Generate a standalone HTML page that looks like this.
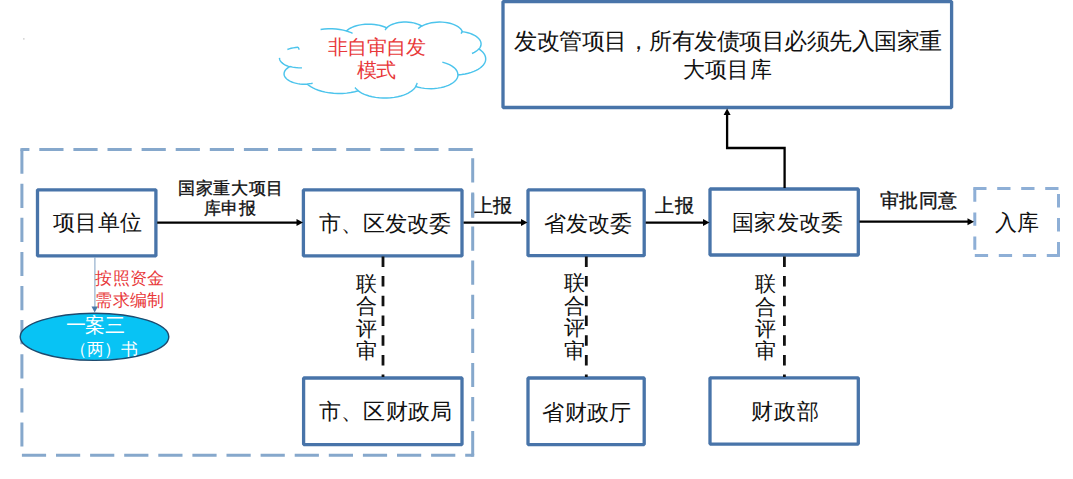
<!DOCTYPE html>
<html><head><meta charset="utf-8"><style>
html,body{margin:0;padding:0;background:#fff;}
body{width:1073px;height:479px;position:relative;overflow:hidden;font-family:"Liberation Serif",serif;}
svg{position:absolute;left:0;top:0;}
.t{position:absolute;white-space:nowrap;line-height:1;}
</style></head><body>
<svg width="1073" height="479" viewBox="0 0 1073 479">
<path d="M21.9 149.6 L21.9 455.3" stroke="#86a8cc" stroke-width="3" stroke-dasharray="24.2 9.9" fill="none"/><path d="M21.9 455.3 L472.7 455.3" stroke="#86a8cc" stroke-width="3" stroke-dasharray="24.2 9.9" fill="none"/><path d="M472.7 455.3 L472.7 149.6" stroke="#86a8cc" stroke-width="3" stroke-dasharray="24.2 9.9" fill="none"/><path d="M472.7 149.6 L21.9 149.6" stroke="#86a8cc" stroke-width="3" stroke-dasharray="24.2 9.9" fill="none"/><rect x="20.4" y="148.1" width="3" height="3" fill="#86a8cc"/><rect x="471.2" y="453.8" width="3" height="3" fill="#86a8cc"/>
<rect x="37.5" y="189.8" width="118.4" height="66.1" fill="#fff" stroke="#4874a9" stroke-width="3.3" stroke-linejoin="bevel"/>
<rect x="303.4" y="189.9" width="158.6" height="66.0" fill="#fff" stroke="#4874a9" stroke-width="3.3" stroke-linejoin="bevel"/>
<rect x="528" y="189.9" width="116.2" height="65.8" fill="#fff" stroke="#4874a9" stroke-width="3.3" stroke-linejoin="bevel"/>
<rect x="710" y="189" width="148.3" height="66.0" fill="#fff" stroke="#4874a9" stroke-width="3.3" stroke-linejoin="bevel"/>
<rect x="503" y="1.5" width="448.6" height="106.0" fill="#fff" stroke="#4874a9" stroke-width="3.3" stroke-linejoin="bevel"/>
<rect x="303.6" y="378" width="158.4" height="66.6" fill="#fff" stroke="#4874a9" stroke-width="3.3" stroke-linejoin="bevel"/>
<rect x="528" y="378" width="116.2" height="66.6" fill="#fff" stroke="#4874a9" stroke-width="3.3" stroke-linejoin="bevel"/>
<rect x="710" y="377.8" width="148.3" height="66.3" fill="#fff" stroke="#4874a9" stroke-width="3.3" stroke-linejoin="bevel"/>
<path d="M974.8 188.5 L974.8 255.4" stroke="#8eafd6" stroke-width="3" stroke-dasharray="13.3 10.7" fill="none"/><path d="M974.8 255.4 L1058.5 255.4" stroke="#8eafd6" stroke-width="3" stroke-dasharray="13.3 10.7" fill="none"/><path d="M1058.5 255.4 L1058.5 188.5" stroke="#8eafd6" stroke-width="3" stroke-dasharray="13.3 10.7" fill="none"/><path d="M1058.5 188.5 L974.8 188.5" stroke="#8eafd6" stroke-width="3" stroke-dasharray="13.3 10.7" fill="none"/><rect x="973.3" y="187.0" width="3" height="3" fill="#8eafd6"/><rect x="1057.0" y="253.9" width="3" height="3" fill="#8eafd6"/>
<line x1="157.2" y1="222.6" x2="298.5" y2="222.6" stroke="#000" stroke-width="2.2"/><path d="M303.0 222.6 L296.5 219.1 L296.5 226.1 Z" fill="#000"/>
<line x1="463.6" y1="222.6" x2="523" y2="222.6" stroke="#000" stroke-width="2.2"/><path d="M527.5 222.6 L521 219.1 L521 226.1 Z" fill="#000"/>
<line x1="645.7" y1="222.6" x2="705" y2="222.6" stroke="#000" stroke-width="2.2"/><path d="M709.5 222.6 L703 219.1 L703 226.1 Z" fill="#000"/>
<line x1="859.5" y1="221.7" x2="969.5" y2="221.7" stroke="#000" stroke-width="2.2"/><path d="M974.0 221.7 L967.5 218.2 L967.5 225.2 Z" fill="#000"/>
<path d="M784.6 188 L784.6 148 L727.1 148 L727.1 113" fill="none" stroke="#000" stroke-width="2.3" stroke-linejoin="miter"/>
<path d="M727.1 108.6 L723.6 115 L730.6 115 Z" fill="#000"/>
<line x1="383" y1="256.4" x2="383" y2="377" stroke="#111" stroke-width="2.8" stroke-dasharray="10.5 9.2"/>
<line x1="586.3" y1="256.4" x2="586.3" y2="377" stroke="#111" stroke-width="2.8" stroke-dasharray="10.5 9.2"/>
<line x1="784.4" y1="256.4" x2="784.4" y2="377" stroke="#111" stroke-width="2.8" stroke-dasharray="10.5 9.2"/>
<line x1="94.9" y1="257" x2="94.9" y2="307" stroke="#8aa8c8" stroke-width="1.1"/>
<path d="M94.7 312.5 L91.5 306.5 L97.9 306.5 Z" fill="#4a78a8"/>
<ellipse cx="94.5" cy="336.8" rx="74.3" ry="23.6" fill="#08c3f4" stroke="#1e4a6e" stroke-width="1.4"/>
<path d="M298.20 47.08 L297.98 46.01 L297.90 44.94 L297.97 43.87 L298.18 42.79 L298.53 41.72 L299.05 40.63 L299.73 39.53 L300.60 38.42 L301.68 37.30 L302.99 36.18 L304.56 35.06 L306.41 33.95 L308.58 32.88 L311.08 31.86 L313.92 30.92 L317.10 30.11 L320.59 29.46 L324.31 29.00 L328.20 28.76 L332.14 28.77 L336.02 29.01 L339.74 29.47 L343.22 30.13 L346.38 30.95 L347.44 30.04 L348.72 29.13 L350.24 28.23 L352.01 27.37 L354.07 26.54 L356.41 25.80 L359.03 25.15 L361.89 24.65 L364.95 24.32 L368.12 24.17 L371.31 24.23 L374.43 24.48 L377.39 24.91 L380.13 25.49 L382.60 26.20 L384.78 26.99 L386.68 27.84 L387.49 27.10 L388.47 26.36 L389.63 25.63 L390.99 24.91 L392.58 24.23 L394.40 23.60 L396.44 23.04 L398.70 22.59 L401.12 22.26 L403.67 22.08 L406.26 22.06 L408.83 22.20 L411.29 22.49 L413.59 22.91 L415.70 23.44 L417.57 24.06 L419.22 24.73 L420.64 25.44 L421.86 26.16 L423.29 25.39 L424.96 24.65 L426.86 23.95 L429.00 23.33 L431.37 22.81 L433.93 22.41 L436.63 22.16 L439.41 22.06 L442.20 22.14 L444.91 22.38 L447.49 22.77 L449.87 23.29 L452.03 23.90 L453.95 24.59 L455.63 25.33 L457.09 26.10 L458.33 26.89 L459.38 27.69 L460.25 28.48 L460.96 29.28 L461.54 30.06 L461.99 30.84 L462.32 31.61 L465.16 32.09 L467.76 32.71 L470.09 33.43 L472.16 34.23 L473.95 35.07 L475.48 35.95 L476.78 36.84 L477.86 37.74 L478.76 38.63 L479.49 39.51 L480.06 40.39 L480.50 41.25 L480.81 42.11 L480.99 42.97 L481.07 43.82 L481.03 44.67 L480.88 45.52 L480.61 46.38 L480.22 47.24 L479.69 48.12 L479.01 49.00 L480.54 50.09 L481.83 51.19 L482.90 52.28 L483.77 53.36 L484.46 54.43 L484.98 55.49 L485.36 56.54 L485.59 57.59 L485.69 58.63 L485.66 59.68 L485.49 60.72 L485.18 61.77 L484.72 62.83 L484.11 63.90 L483.33 64.97 L482.36 66.06 L481.18 67.15 L479.76 68.25 L478.09 69.33 L476.13 70.40 L473.87 71.42 L471.28 72.39 L468.37 73.25 L465.15 73.99 L461.66 74.56 L457.96 74.93 L457.89 75.86 L457.69 76.78 L457.36 77.71 L456.89 78.65 L456.27 79.60 L455.49 80.55 L454.53 81.52 L453.36 82.48 L451.96 83.44 L450.31 84.39 L448.38 85.31 L446.17 86.17 L443.66 86.95 L440.86 87.63 L437.81 88.15 L434.56 88.50 L431.20 88.66 L427.82 88.60 L424.50 88.35 L421.35 87.90 L418.42 87.30 L415.77 86.56 L415.04 87.64 L414.14 88.72 L413.03 89.81 L411.69 90.90 L410.10 91.99 L408.24 93.06 L406.08 94.10 L403.60 95.08 L400.79 95.98 L397.66 96.76 L394.25 97.39 L390.62 97.83 L386.83 98.05 L383.00 98.05 L379.21 97.82 L375.58 97.38 L372.18 96.75 L369.06 95.96 L366.26 95.06 L363.78 94.08 L361.62 93.04 L359.77 91.97 L358.19 90.88 L354.68 91.81 L350.82 92.58 L346.68 93.14 L342.34 93.46 L337.92 93.52 L333.54 93.30 L329.31 92.84 L325.32 92.15 L321.66 91.28 L318.37 90.26 L315.45 89.14 L312.91 87.95 L310.72 86.72 L308.85 85.46 L307.28 84.20 L304.80 84.27 L302.32 84.19 L299.91 83.97 L297.62 83.62 L295.51 83.16 L293.59 82.61 L291.88 82.00 L290.39 81.34 L289.09 80.65 L287.99 79.94 L287.05 79.23 L286.27 78.53 L285.63 77.82 L285.11 77.12 L284.71 76.43 L284.41 75.74 L284.20 75.06 L284.09 74.38 L284.07 73.70 L284.13 73.02 L284.29 72.34 L284.54 71.66 L284.89 70.97 L285.34 70.27 L285.92 69.57 L286.62 68.86 L287.47 68.15 L288.49 67.44 L289.68 66.75 L287.87 66.15 L286.29 65.49 L284.91 64.81 L283.73 64.10 L282.73 63.39 L281.90 62.67 L281.21 61.96 L280.65 61.25 L280.21 60.56 L279.87 59.86 L279.63 59.18 L279.49 58.50 L279.43 57.82 L279.46 57.14 L279.58 56.46 L279.79 55.78 L280.10 55.09 L280.51 54.39 L281.03 53.69 L281.68 52.98 L282.48 52.26 L283.42 51.55 L284.55 50.84 L285.87 50.14 L287.39 49.48 L289.13 48.86 L291.09 48.31 L293.25 47.86 L295.57 47.52 L298.02 47.32 Z" fill="#fff" stroke="none"/>
<path d="M320.59 29.46 L324.31 29.00 L328.20 28.76 L332.14 28.77 L336.02 29.01 L339.74 29.47 L343.22 30.13 L346.38 30.95 L347.44 30.04 L348.72 29.13 L350.24 28.23 L352.01 27.37 L354.07 26.54 L356.41 25.80 L359.03 25.15 L361.89 24.65 L364.95 24.32 L368.12 24.17 L371.31 24.23 L374.43 24.48 L377.39 24.91 L380.13 25.49 L382.60 26.20 L384.78 26.99 L386.68 27.84 L387.49 27.10 L388.47 26.36 L389.63 25.63 L390.99 24.91 L392.58 24.23 L394.40 23.60 L396.44 23.04 L398.70 22.59 L401.12 22.26 L403.67 22.08 L406.26 22.06 L408.83 22.20 L411.29 22.49 L413.59 22.91 L415.70 23.44 L417.57 24.06 L419.22 24.73 L420.64 25.44 L421.86 26.16 L423.29 25.39 L424.96 24.65 L426.86 23.95 L429.00 23.33 L431.37 22.81 L433.93 22.41 L436.63 22.16 L439.41 22.06 L442.20 22.14 L444.91 22.38 L447.49 22.77 L449.87 23.29 L452.03 23.90 L453.95 24.59 L455.63 25.33 L457.09 26.10 L458.33 26.89 L459.38 27.69 L460.25 28.48 L460.96 29.28 L461.54 30.06 L461.99 30.84 L462.32 31.61 L465.16 32.09 L467.76 32.71 L470.09 33.43 L472.16 34.23 L473.95 35.07 L475.48 35.95 L476.78 36.84 L477.86 37.74 L478.76 38.63 L479.49 39.51 L480.06 40.39 L480.50 41.25 L480.81 42.11 L480.99 42.97 L481.07 43.82 L481.03 44.67 L480.88 45.52 L480.61 46.38 L480.22 47.24 L479.69 48.12 L479.01 49.00 L480.54 50.09 L481.83 51.19 L482.90 52.28 L483.77 53.36 L484.46 54.43 L484.98 55.49 L485.36 56.54 L485.59 57.59 L485.69 58.63 L485.66 59.68 L485.49 60.72 L485.18 61.77 L484.72 62.83 L484.11 63.90 L483.33 64.97 L482.36 66.06 L481.18 67.15 L479.76 68.25 L478.09 69.33 L476.13 70.40 L473.87 71.42 L471.28 72.39 L468.37 73.25 L465.15 73.99 L461.66 74.56 L457.96 74.93 L457.89 75.86 L457.69 76.78 L457.36 77.71 L456.89 78.65 L456.27 79.60 L455.49 80.55 L454.53 81.52 L453.36 82.48 L451.96 83.44 L450.31 84.39 L448.38 85.31 L446.17 86.17 L443.66 86.95 L440.86 87.63 L437.81 88.15 L434.56 88.50 L431.20 88.66 L427.82 88.60 L424.50 88.35 L421.35 87.90 L418.42 87.30 L415.77 86.56 L415.04 87.64 L414.14 88.72 L413.03 89.81 L411.69 90.90 L410.10 91.99 L408.24 93.06 L406.08 94.10 L403.60 95.08 L400.79 95.98 L397.66 96.76 L394.25 97.39 L390.62 97.83 L386.83 98.05 L383.00 98.05 L379.21 97.82 L375.58 97.38 L372.18 96.75 L369.06 95.96 L366.26 95.06 L363.78 94.08 L361.62 93.04 L359.77 91.97 L358.19 90.88 L354.68 91.81 L350.82 92.58 L346.68 93.14 L342.34 93.46 L337.92 93.52 L333.54 93.30 L329.31 92.84 L325.32 92.15 L321.66 91.28 L318.37 90.26 L315.45 89.14 L312.91 87.95 L310.72 86.72 L308.85 85.46 L307.28 84.20 L304.80 84.27 L302.32 84.19 L299.91 83.97 L297.62 83.62 L295.51 83.16 L293.59 82.61 L291.88 82.00 L290.39 81.34 L289.09 80.65 L287.99 79.94 L287.05 79.23 L286.27 78.53 L285.63 77.82 L285.11 77.12 L284.71 76.43 L284.41 75.74 L284.20 75.06 L284.09 74.38 L284.07 73.70 L284.13 73.02 L284.29 72.34 L284.54 71.66 L284.89 70.97 L285.34 70.27 L285.92 69.57 L286.62 68.86 L287.47 68.15 L288.49 67.44 L289.68 66.75 L287.87 66.15 L286.29 65.49 L284.91 64.81 L283.73 64.10 L282.73 63.39 L281.90 62.67 L281.21 61.96 L280.65 61.25 L280.21 60.56 L279.87 59.86 L279.63 59.18 L279.49 58.50 L279.43 57.82 M287.39 49.48 L289.13 48.86 L291.09 48.31 L293.25 47.86 L295.57 47.52 L298.02 47.32" fill="none" stroke="#4cc4ec" stroke-width="1.45"/>
<path d="M301.98 67.85 L298.72 67.85 L295.53 67.59 L292.56 67.11 L289.90 66.45 M312.64 83.20 L311.38 83.42 L310.08 83.61 L308.73 83.76 L307.35 83.87 M358.18 90.57 L357.22 89.80 L356.37 89.03 L355.63 88.27 L354.99 87.51 M417.06 82.94 L416.88 83.77 L416.61 84.61 L416.25 85.45 L415.79 86.29 M442.34 62.18 L446.24 63.34 L449.46 64.68 L452.03 66.12 L454.02 67.59 L455.51 69.05 L456.60 70.50 L457.32 71.92 L457.73 73.33 L457.85 74.74 M478.91 48.81 L477.75 50.00 L476.25 51.20 L474.35 52.38 L472.01 53.52 M462.35 31.35 L462.12 31.91 L461.83 32.47 L461.47 33.04 L461.05 33.61 M418.26 28.75 L418.94 28.04 L419.75 27.33 L420.69 26.62 L421.80 25.92 M385.18 30.10 L385.48 29.50 L385.86 28.89 L386.33 28.28 L386.89 27.66 M346.36 30.93 L348.09 31.48 L349.70 32.06 L351.19 32.67 L352.56 33.31 M299.28 49.58 L298.93 48.95 L298.63 48.32 L298.39 47.70 L298.20 47.08" fill="none" stroke="#4cc4ec" stroke-width="1.45"/>
<rect x="23" y="38.3" width="1.6" height="1.2" fill="#c8c8c8"/>
</svg>
<div class="t" style="left:53.2px;top:212.45px;font-size:22px;line-height:22.0px;letter-spacing:0.2px;color:#111;font-weight:normal">项目单位</div>
<div class="t" style="left:178.3px;top:179.85px;font-size:17px;line-height:17px;letter-spacing:0.56px;color:#111;font-weight:normal;-webkit-text-stroke:0.35px #111">国家重大项目</div>
<div class="t" style="left:203.6px;top:200.0px;font-size:17px;line-height:17.0px;letter-spacing:0.5px;color:#111;font-weight:normal;-webkit-text-stroke:0.35px #111">库申报</div>
<div class="t" style="left:318.95px;top:213.1px;font-size:22px;line-height:22.0px;letter-spacing:0.1px;color:#111;font-weight:normal">市、区发改委</div>
<div class="t" style="left:474.1px;top:196.3px;font-size:19px;line-height:19.0px;letter-spacing:0.4px;color:#111;font-weight:normal;-webkit-text-stroke:0.35px #111">上报</div>
<div class="t" style="left:544.35px;top:212.8px;font-size:22px;line-height:22.0px;letter-spacing:0.03px;color:#111;font-weight:normal">省发改委</div>
<div class="t" style="left:655.2px;top:195.75px;font-size:19px;line-height:19.0px;letter-spacing:0.4px;color:#111;font-weight:normal;-webkit-text-stroke:0.35px #111">上报</div>
<div class="t" style="left:732.25px;top:212.35px;font-size:22px;line-height:22.0px;letter-spacing:0.23px;color:#111;font-weight:normal">国家发改委</div>
<div class="t" style="left:879.95px;top:191.2px;font-size:19px;line-height:19.0px;letter-spacing:0.5px;color:#111;font-weight:normal;-webkit-text-stroke:0.35px #111">审批同意</div>
<div class="t" style="left:995.15px;top:212.05px;font-size:22px;line-height:22.0px;letter-spacing:-0.5px;color:#111;font-weight:normal">入库</div>
<div class="t" style="left:514.4px;top:29.95px;font-size:23px;line-height:23.0px;letter-spacing:-0.52px;color:#111;font-weight:normal">发改管项目，所有发债项目必须先入国家重</div>
<div class="t" style="left:682.9px;top:58.8px;font-size:22px;line-height:22.0px;letter-spacing:0.27px;color:#111;font-weight:normal">大项目库</div>
<div class="t" style="left:327.8px;top:36.6px;font-size:20px;line-height:20.0px;letter-spacing:-0.5px;color:#e8383a;font-weight:normal">非自审自发</div>
<div class="t" style="left:356.9px;top:59.9px;font-size:20px;line-height:20px;letter-spacing:-1.0px;color:#e8383a;font-weight:normal">模式</div>
<div class="t" style="left:95.35px;top:270.2px;font-size:17px;line-height:17.0px;letter-spacing:0.3px;color:#e8383a;font-weight:normal">按照资金</div>
<div class="t" style="left:95.15px;top:291.6px;font-size:17px;line-height:17.0px;letter-spacing:0.43px;color:#e8383a;font-weight:normal">需求编制</div>
<div class="t" style="left:65.5px;top:314.85px;font-size:20px;line-height:20.0px;letter-spacing:-0.3px;color:#fff;font-weight:normal">一案三</div>
<div class="t" style="left:70.25px;top:340.85px;font-size:17px;line-height:17.0px;letter-spacing:-0.17px;color:#fff;font-weight:normal">（两）书</div>
<div class="t" style="left:356.45px;top:272.65px;font-size:21px;line-height:22.57px;letter-spacing:0.0px;color:#111;font-weight:normal">联<br>合<br>评<br>审</div>
<div class="t" style="left:564.35px;top:272.4px;font-size:21px;line-height:22.47px;letter-spacing:0.0px;color:#111;font-weight:normal">联<br>合<br>评<br>审</div>
<div class="t" style="left:754.9px;top:273.35px;font-size:21px;line-height:22.3px;letter-spacing:0.0px;color:#111;font-weight:normal">联<br>合<br>评<br>审</div>
<div class="t" style="left:319.3px;top:401.3px;font-size:22px;line-height:22.0px;letter-spacing:0.08px;color:#111;font-weight:normal">市、区财政局</div>
<div class="t" style="left:542.35px;top:401.55px;font-size:22px;line-height:22.0px;letter-spacing:0.37px;color:#111;font-weight:normal">省财政厅</div>
<div class="t" style="left:751.1px;top:401.4px;font-size:22px;line-height:22px;letter-spacing:0.9px;color:#111;font-weight:normal">财政部</div>
<svg width="1073" height="479" viewBox="0 0 1073 479" style="position:absolute;left:0;top:0">
<path d="M472.7 193.7 L472.7 217.8" stroke="#86a8cc" stroke-width="3" fill="none"/>
</svg>
</body></html>
